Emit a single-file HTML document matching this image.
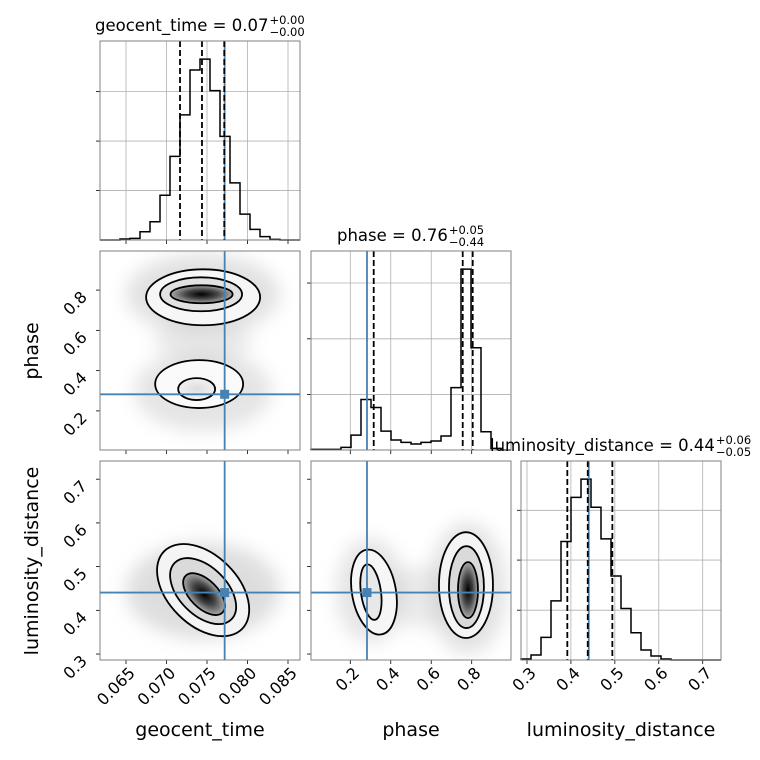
<!DOCTYPE html>
<html><head><meta charset="utf-8"><style>
html,body{margin:0;padding:0;background:#fff;}
svg{display:block;font-family:"DejaVu Sans","Liberation Sans",sans-serif;}
</style></head><body>
<svg id="chart" width="760" height="760" viewBox="0 0 760 760" xmlns="http://www.w3.org/2000/svg">
<defs>
<filter id="blur" x="-50%" y="-50%" width="200%" height="200%"><feGaussianBlur stdDeviation="9"/></filter>
<radialGradient id="coreGrad"><stop offset="0" stop-color="#000"/><stop offset="0.5" stop-color="#444"/><stop offset="1" stop-color="#aaa"/></radialGradient>
<radialGradient id="coreGradLight"><stop offset="0" stop-color="#ddd"/><stop offset="1" stop-color="#f2f2f2"/></radialGradient>
</defs>
</svg>
<script>
// ---- data ----
const geoCounts = [0,0,3,5,25,55,135,252,377,512,545,450,312,172,78,32,10,2,0,0];
const phaseCounts = [2,2,2,8,45,152,128,57,30,23,18,23,27,42,188,545,308,55,5,0];
const lumCounts = [3,15,68,178,357,490,545,460,365,253,155,82,30,12,3,0,0,0,0,0];
const geoYTicks = [149,298,447];
const phaseYTicks = [167,335,503];
const lumYTicks = [150,301,451];
const geoTicks = [0.065,0.070,0.075,0.080,0.085];
const geoTickLabels = ["0.065","0.070","0.075","0.080","0.085"];
const phaseTicks = [0.2,0.4,0.6,0.8];
const phaseTickLabels = ["0.2","0.4","0.6","0.8"];
const lumTicks = [0.3,0.4,0.5,0.6,0.7];
const lumTickLabels = ["0.3","0.4","0.5","0.6","0.7"];
const geoQuantiles = [0.07167,0.07438,0.07713];
const phaseQuantiles = [0.3157,0.7556,0.8050];
const lumQuantiles = [0.3918,0.4383,0.4943];
const truths = [0.07718,0.2825,0.4406];
// contours: [cx, cy, rx, ry, angleDeg, fill]
const contoursGeoPhase = [
  [0.07452,0.7644,0.00704,0.1388,0,"#f6f6f6"],
  [0.07427,0.7793,0.00506,0.0843,0,"#e2e2e2"],
  [0.07433,0.7793,0.00383,0.0446,0,"url(#coreGrad)"],
  [0.07403,0.3332,0.00543,0.119,0,"#fafafa"],
  [0.07372,0.3084,0.00228,0.0545,0,"url(#coreGradLight)"]
];
const contoursGeoLum = [
  [0.07452,0.4463,0.00679,0.080,45,"#f4f4f4"],
  [0.07452,0.4440,0.00494,0.0548,45,"#dadada"],
  [0.07464,0.4371,0.00321,0.032,45,"url(#coreGrad)"]
];
const contoursPhaseLum = [
  [0.317,0.4417,0.1087,0.0983,-10,"#f6f6f6"],
  [0.302,0.4417,0.0494,0.064,-8,"#e8e8e8"],
  [0.7717,0.4577,0.1334,0.1211,0,"#f4f4f4"],
  [0.774,0.4531,0.0864,0.0937,0,"#dadada"],
  [0.7816,0.4463,0.0494,0.064,0,"url(#coreGrad)"]
];
// scatter clouds: [cx, cy, rx, ry, opacity]
const cloudsGeoPhase = [[0.0745,0.78,0.0095,0.2,0.45],[0.0745,0.30,0.0085,0.2,0.4],[0.0745,0.55,0.006,0.12,0.3]];
const cloudsGeoLum = [[0.0745,0.445,0.0095,0.11,0.5]];
const cloudsPhaseLum = [[0.30,0.445,0.17,0.12,0.4],[0.78,0.45,0.19,0.15,0.45],[0.55,0.43,0.2,0.07,0.3]];

// ---- geometry ----
const cols=[100,311,521], rows=[41,251,461], W=200, H=199;
const geoD=[0.06179,0.086481], phaseD=[0.00577,0.99424], lumD=[0.28634,0.74166];
const NS="http://www.w3.org/2000/svg";
const svg=document.getElementById('chart');
function mk(tag,attrs,parent){const e=document.createElementNS(NS,tag);for(const k in attrs)e.setAttribute(k,attrs[k]);(parent||svg).appendChild(e);return e;}
function sx(d,c){return v=>cols[c]+(v-d[0])/(d[1]-d[0])*W;}
function sy(d,r){return v=>rows[r]+H-(v-d[0])/(d[1]-d[0])*H;}

function hist(c,counts,dom,yticks,xticks,quant,truth,name){
  const x=sx(dom,c), ymax=Math.max(...counts)*1.1, y=v=>rows[c]+H-v/ymax*H;
  const g=mk('g',{});
  
  
  for(const t of xticks){const l=mk('line',{x1:x(t),x2:x(t),y1:rows[c],y2:rows[c]+H,stroke:'#b0b0b0','stroke-width':0.8},g);
    
    mk('line',{x1:x(t),x2:x(t),y1:rows[c]+H,y2:rows[c]+H+4,stroke:'#000','stroke-width':0.8},g);}
  for(const t of yticks){const l=mk('line',{x1:cols[c],x2:cols[c]+W,y1:y(t),y2:y(t),stroke:'#b0b0b0','stroke-width':0.8},g);
    
    mk('line',{x1:cols[c]-4,x2:cols[c],y1:y(t),y2:y(t),stroke:'#000','stroke-width':0.8},g);}
  const bw=(dom[1]-dom[0])/counts.length;
  let d=`M${x(dom[0])},${y(0)}`;
  counts.forEach((v,i)=>{d+=` L${x(dom[0]+i*bw)},${y(v)} L${x(dom[0]+(i+1)*bw)},${y(v)}`;});
  d+=` L${x(dom[1])},${y(0)}`;
  const p=mk('path',{d,fill:'none',stroke:'#000','stroke-width':1.5},g);
  
  const tl=mk('line',{x1:x(truth),x2:x(truth),y1:rows[c],y2:rows[c]+H,stroke:'#4682b4','stroke-width':1.8},g);
  
  for(const q of quant){const l=mk('line',{x1:x(q),x2:x(q),y1:rows[c],y2:rows[c]+H,stroke:'#000','stroke-width':1.8,'stroke-dasharray':'6,3'},g);
    }
  const f=mk('rect',{x:cols[c],y:rows[c],width:W,height:H,fill:'none',stroke:'#808080','stroke-width':1},g);
  
}

function panel2d(c,r,dx,dy,clouds,contours,xticks,yticks,tx,ty,name){
  const x=sx(dx,c), y=sy(dy,r);
  const g=mk('g',{});
  
  
  const clip=mk('clipPath',{id:'clip'+name},g);
  mk('rect',{x:cols[c],y:rows[r],width:W,height:H},clip);
  const inner=mk('g',{'clip-path':`url(#clip${name})`},g);
  for(const cl of clouds){const e=mk('ellipse',{cx:x(cl[0]),cy:y(cl[1]),rx:Math.abs(x(cl[0]+cl[2])-x(cl[0])),ry:Math.abs(y(cl[1]+cl[3])-y(cl[1])),fill:'#bdbdbd',opacity:cl[4],filter:'url(#blur)'},inner);
    }
  for(const ct of contours){const cx=x(ct[0]),cy=y(ct[1]);
    const e=mk('ellipse',{cx,cy,rx:Math.abs(x(ct[0]+ct[2])-cx),ry:Math.abs(y(ct[1]+ct[3])-cy),fill:ct[5],stroke:'#000','stroke-width':1.8,transform:`rotate(${ct[4]} ${cx} ${cy})`},inner);
    }
  const vl=mk('line',{x1:x(tx),x2:x(tx),y1:rows[r],y2:rows[r]+H,stroke:'#4682b4','stroke-width':1.8},inner);
  
  const hl=mk('line',{x1:cols[c],x2:cols[c]+W,y1:y(ty),y2:y(ty),stroke:'#4682b4','stroke-width':1.8},inner);
  
  const m=mk('rect',{x:x(tx)-4.5,y:y(ty)-4.5,width:9,height:9,fill:'#4682b4'},inner);
  
  for(const t of xticks)mk('line',{x1:x(t),x2:x(t),y1:rows[r]+H,y2:rows[r]+H+4,stroke:'#000','stroke-width':0.8},g);
  for(const t of yticks)mk('line',{x1:cols[c]-4,x2:cols[c],y1:y(t),y2:y(t),stroke:'#000','stroke-width':0.8},g);
  const f=mk('rect',{x:cols[c],y:rows[r],width:W,height:H,fill:'none',stroke:'#808080','stroke-width':1},g);
  
}

hist(0,geoCounts,geoD,geoYTicks,geoTicks,geoQuantiles,truths[0],'geocent-time');
hist(1,phaseCounts,phaseD,phaseYTicks,phaseTicks,phaseQuantiles,truths[1],'phase');
hist(2,lumCounts,lumD,lumYTicks,lumTicks,lumQuantiles,truths[2],'luminosity-distance');
panel2d(0,1,geoD,phaseD,cloudsGeoPhase,contoursGeoPhase,geoTicks,phaseTicks,truths[0],truths[1],'geo-phase');
panel2d(0,2,geoD,lumD,cloudsGeoLum,contoursGeoLum,geoTicks,lumTicks,truths[0],truths[2],'geo-lum');
panel2d(1,2,phaseD,lumD,cloudsPhaseLum,contoursPhaseLum,phaseTicks,lumTicks,truths[1],truths[2],'phase-lum');

function txt(s,attrs,name){const t=mk('text',attrs);t.textContent=s;
  
  return t;}
// x tick labels bottom row
[[geoD,geoTicks,geoTickLabels,0],[phaseD,phaseTicks,phaseTickLabels,1],[lumD,lumTicks,lumTickLabels,2]].forEach(a=>{
  const x=sx(a[0],a[3]);
  a[1].forEach((t,i)=>{txt(a[2][i],{'font-size':16,'text-anchor':'end',transform:`translate(${x(t)+10},${674}) rotate(-45)`},'x-tick-label');});
});
// y tick labels left column
[[phaseD,phaseTicks,phaseTickLabels,1],[lumD,lumTicks,lumTickLabels,2]].forEach(a=>{
  const y=sy(a[0],a[3]);
  a[1].forEach((t,i)=>{txt(a[2][i],{'font-size':16,'text-anchor':'end',transform:`translate(${88},${y(t)+8}) rotate(-45)`},'y-tick-label');});
});
// axis labels
txt('geocent_time',{x:200,y:736,'font-size':19,'text-anchor':'middle'},'x-axis-title-geocent-time');
txt('phase',{x:411,y:736,'font-size':19,'text-anchor':'middle'},'x-axis-title-phase');
txt('luminosity_distance',{x:621,y:736,'font-size':19,'text-anchor':'middle'},'x-axis-title-luminosity-distance');
txt('phase',{'font-size':19,'text-anchor':'middle',transform:'translate(38,351) rotate(-90)'},'y-axis-title-phase');
txt('luminosity_distance',{'font-size':19,'text-anchor':'middle',transform:'translate(38,561) rotate(-90)'},'y-axis-title-luminosity-distance');
// titles
function title(x,y,main,sup,sub,name){
  const t=txt(main,{x,y,'font-size':16.5},name);
  const w=t.getComputedTextLength();
  txt(sup,{x:x+w+1,y:y-7,'font-size':11.5},name+'-upper-error');
  txt(sub,{x:x+w+1,y:y+5,'font-size':11.5},name+'-lower-error');
}
title(95,31,'geocent_time = 0.07','+0.00','\u22120.00','title-geocent-time');
title(337,241,'phase = 0.76','+0.05','\u22120.44','title-phase');
title(490,451,'luminosity_distance = 0.44','+0.06','\u22120.05','title-luminosity-distance');
</script>
</body></html>
